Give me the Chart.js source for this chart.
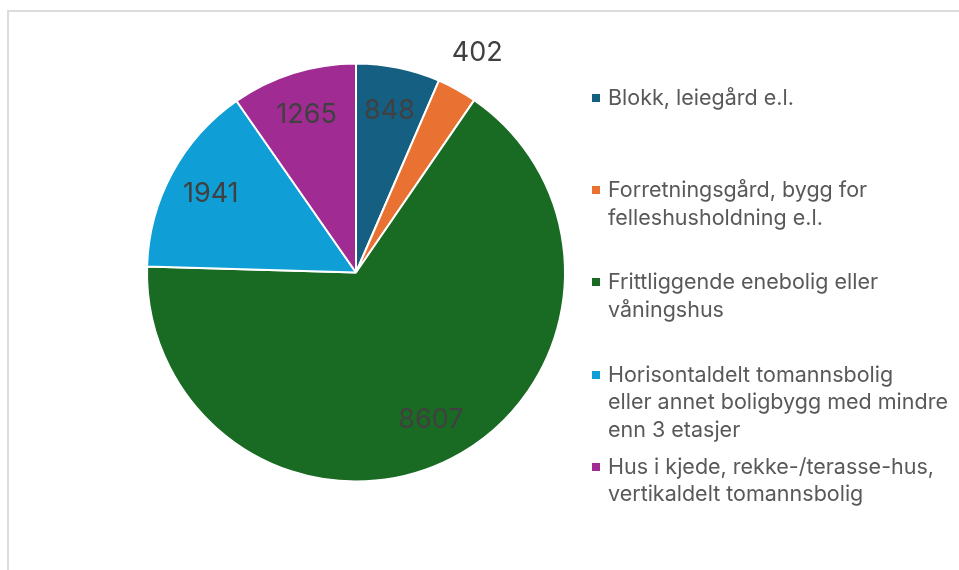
<!DOCTYPE html>
<html>
<head>
<meta charset="utf-8">
<script src="https://cdn.jsdelivr.net/npm/chart.js"></script>
<style>
  html, body { margin: 0; padding: 0; background: #fff; }
  #wrap { position: relative; width: 959px; height: 570px; overflow: hidden; }
  #frame { position: absolute; left: 7px; top: 10px; right: -10px; bottom: -10px;
           border-top: 2px solid #dcdcdc; border-left: 2px solid #dcdcdc; }
  #chart { position: absolute; left: 0; top: 0; }
  #legend { position: absolute; left: 592px; top: 0; font-family: Inter, "Noto Sans", sans-serif;
            font-size: 21.5px; color: #595959; line-height: 27.5px; }
  .item { position: absolute; left: 0; white-space: nowrap; }
  .box { position: absolute; left: 0; top: 10px; width: 8px; height: 8px; }
  .txt { margin-left: 16px; }
</style>
</head>
<body>
<div id="wrap">
  <div id="frame"></div>
  <canvas id="chart" width="959" height="570"></canvas>
  <div id="legend"></div>
</div>
<script>
const categories = [
    ['Blokk, leiegård e.l.'],
    ['Forretningsgård, bygg for', 'felleshusholdning e.l.'],
    ['Frittliggende enebolig eller', 'våningshus'],
    ['Horisontaldelt tomannsbolig', 'eller annet boligbygg med mindre', 'enn 3 etasjer'],
    ['Hus i kjede, rekke-/terasse-hus,', 'vertikaldelt tomannsbolig']
];
const values = [848, 402, 8607, 1941, 1265];
const colors = ['#156082', '#E97132', '#196B24', '#0F9ED5', '#A02B93'];

// data labels: inside the slice, or outside when the slice is thin
const valueLabels = {
    id: 'valueLabels',
    afterDatasetsDraw(chart) {
        const ctx = chart.ctx;
        const meta = chart.getDatasetMeta(0);
        const total = values.reduce((a, b) => a + b, 0);
        ctx.save();
        ctx.font = '27px Inter, "Noto Sans", sans-serif';
        ctx.fillStyle = '#404040';
        ctx.textAlign = 'center';
        ctx.textBaseline = 'middle';
        meta.data.forEach((arc, i) => {
            const p = arc.getProps(['x', 'y', 'startAngle', 'endAngle', 'outerRadius'], true);
            const mid = (p.startAngle + p.endAngle) / 2;
            const small = values[i] / total < 0.05;
            const r = p.outerRadius * (small ? 1.2 : 0.79);
            ctx.fillText(String(values[i]), p.x + Math.cos(mid) * r, p.y + Math.sin(mid) * r);
        });
        ctx.restore();
    }
};

const chart = new Chart(document.getElementById('chart'), {
    type: 'pie',
    data: {
        labels: categories,
        datasets: [{
            data: values,
            backgroundColor: colors,
            borderColor: '#ffffff',
            borderWidth: 2
        }]
    },
    options: {
        responsive: false,
        animation: false,
        events: [],
        layout: { padding: { top: 62, bottom: 87, left: 146, right: 393 } },
        plugins: {
            legend: { display: false },
            tooltip: { enabled: false }
        }
    },
    plugins: [valueLabels]
});

const legend = document.getElementById('legend');
categories.forEach((lines, i) => {
    const item = document.createElement('div');
    item.className = 'item';
    item.style.top = (84 + i * 92.2) + 'px';
    const box = document.createElement('div');
    box.className = 'box';
    box.style.background = colors[i];
    const txt = document.createElement('div');
    txt.className = 'txt';
    txt.innerHTML = lines.join('<br>');
    item.appendChild(box);
    item.appendChild(txt);
    legend.appendChild(item);
});
</script>
</body>
</html>
